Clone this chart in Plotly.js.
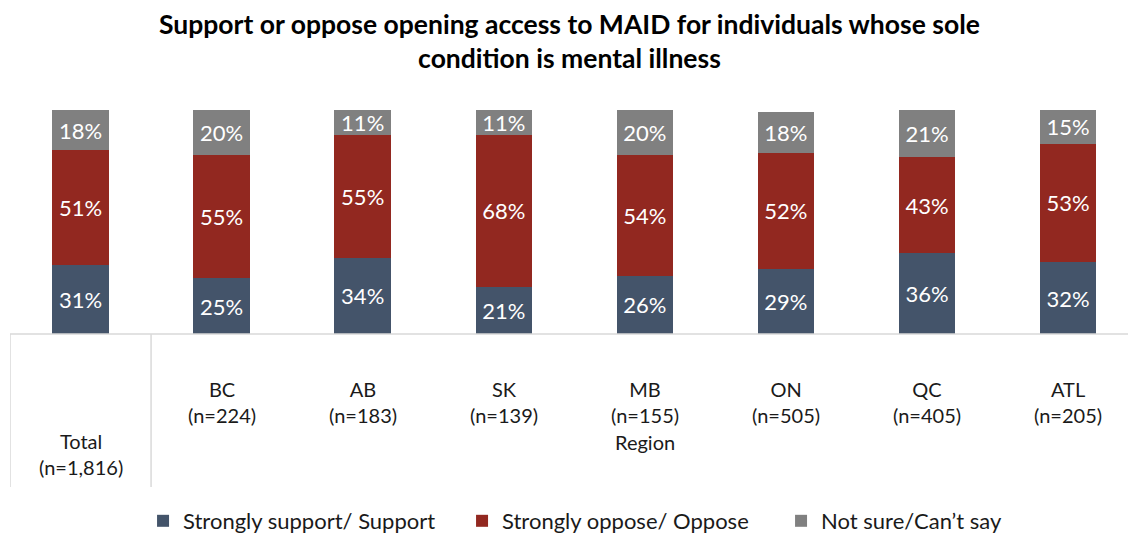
<!DOCTYPE html>
<html>
<head>
<meta charset="utf-8">
<script src="https://cdn.plot.ly/plotly-3.0.1.min.js"></script>
<style>html,body{margin:0;padding:0;background:#fff;}#chart{width:1128px;height:533px;}</style>
</head>
<body>
<div id="chart"></div>
<script>
var categories = ["Total", "BC", "AB", "SK", "MB", "ON", "QC", "ATL"];
var sampleSizes = ["(n=1,816)", "(n=224)", "(n=183)", "(n=139)", "(n=155)", "(n=505)", "(n=405)", "(n=205)"];
var support = [31, 25, 34, 21, 26, 29, 36, 32];
var oppose = [51, 55, 55, 68, 54, 52, 43, 53];
var notSure = [18, 20, 11, 11, 20, 18, 21, 15];
var seriesNames = ["Strongly support/ Support", "Strongly oppose/ Oppose", "Not sure/Can\u2019t say"];
var colors = ["#44546A", "#922820", "#808080"];
var groupLabel = "Region";
var title = "Support or oppose opening access to MAID for individuals whose sole<br>condition is mental illness";

var font = "Lato, 'Open Sans', sans-serif";
var xs = categories.map(function(c, i){ return i; });

function mk(vals, i){
  return {
    type: "bar", x: xs, y: vals, name: seriesNames[i],
    marker: {color: colors[i]},
    text: vals.map(function(v){ return v + "%"; }),
    textposition: "inside", insidetextanchor: "middle", constraintext: "none",
    textfont: {color: "#ffffff", size: 22, family: font},
    hoverinfo: "skip"
  };
}
var data = [mk(support, 0), mk(oppose, 1), mk(notSure, 2)];

var labFont = {size: 20, color: "#1a1a1a", family: font};
var annotations = [];
for (var i = 1; i < categories.length; i++) {
  annotations.push({x: xs[i], y: -0.302, xref: "x", yref: "paper", text: categories[i] + "<br>" + sampleSizes[i],
    showarrow: false, yanchor: "middle", font: labFont});
}
annotations.push({x: xs[0], y: -0.5335, xref: "x", yref: "paper", text: categories[0] + "<br>" + sampleSizes[0],
  showarrow: false, yanchor: "middle", font: labFont});
annotations.push({x: 4, y: -0.482, xref: "x", yref: "paper", text: groupLabel,
  showarrow: false, yanchor: "middle", font: labFont});
annotations.push({x: 0.5, y: 1.306, xref: "paper", yref: "paper", text: "<b>" + title + "</b>",
  showarrow: false, xanchor: "center", yanchor: "middle", font: {family: font, size: 26.5, color: "#000"}});

var lineColor = "#d9d9d9";
var shapes = [
  {type: "line", xref: "paper", yref: "paper", x0: 0, x1: 1, y0: 0, y1: 0, line: {color: lineColor, width: 1.5}},
  {type: "line", xref: "x", yref: "paper", x0: -0.5, x1: -0.5, y0: 0, y1: -0.683, line: {color: lineColor, width: 1.5}},
  {type: "line", xref: "x", yref: "paper", x0: 0.5, x1: 0.5, y0: 0, y1: -0.683, line: {color: lineColor, width: 1.5}}
];

var layout = {
  width: 1128, height: 533,
  margin: {l: 10, r: 0, t: 110, b: 199, autoexpand: false},
  paper_bgcolor: "#fff", plot_bgcolor: "#fff",
  barmode: "stack", bargap: 0.6,
  xaxis: {range: [-0.5, 7.425], showticklabels: false, showgrid: false, zeroline: false, showline: false, ticks: "", fixedrange: true},
  yaxis: {range: [0, 100], visible: false, fixedrange: true},
  showlegend: true,
  legend: {orientation: "h", x: 0.547, xanchor: "center", yref: "container", y: 0.0225, yanchor: "middle",
    font: {size: 22, color: "#1a1a1a", family: font}, traceorder: "normal", entrywidth: 274, entrywidthmode: "pixels"},
  annotations: annotations,
  shapes: shapes,
  font: {family: font}
};

Plotly.newPlot("chart", data, layout, {displayModeBar: false, staticPlot: true});
</script>
</body>
</html>
